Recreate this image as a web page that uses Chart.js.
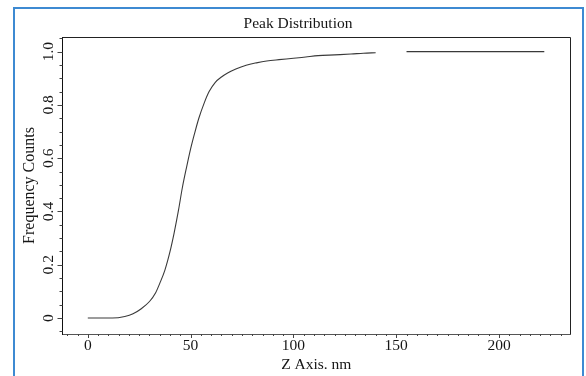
<!DOCTYPE html>
<html><head><meta charset="utf-8">
<script src="https://cdn.jsdelivr.net/npm/chart.js@4"></script>
<style>html,body{margin:0;padding:0;background:#fff;} #wrap{width:586px;height:376px;}</style>
</head><body><div id="wrap"><canvas id="c" width="586" height="376"></canvas></div>
<script>
const zValues = [0,12,18,22,26,30,33,35,37.5,40,42,44,46,48,50,52,54,56.5,59,62,65,68,72,77,82,87,93,100,106,112,120,128,134,140,147,155,222];
const frequency = [0,0,0.006,0.016,0.035,0.062,0.095,0.13,0.18,0.25,0.32,0.40,0.49,0.565,0.635,0.695,0.75,0.805,0.85,0.885,0.905,0.92,0.935,0.949,0.958,0.965,0.97,0.975,0.98,0.985,0.988,0.991,0.994,0.996,null,1.0,1.0];
const xTickValues = [0,50,100,150,200];
const xTickLabels = ["0","50","100","150","200"];
const yTickValues = [0,0.2,0.4,0.6,0.8,1.0];
const yTickLabels = ["0","0.2","0.4","0.6","0.8","1.0"];
const chartTitle = "Peak Distribution";
const xTitle = "Z Axis. nm";
const yTitle = "Frequency Counts";

const FONT = "'Liberation Serif', 'DejaVu Serif', serif";
const TXT = '#161616';

const decor = {
  id: 'decor',
  beforeDraw(chart) {
    const ctx = chart.ctx;
    ctx.save();
    ctx.fillStyle = '#fff';
    ctx.fillRect(0, 0, chart.width, chart.height);
    ctx.strokeStyle = '#3d8ad2';
    ctx.lineWidth = 2;
    ctx.strokeRect(14, 8, 569, 380);
    ctx.restore();
  },
  afterDraw(chart) {
    const ctx = chart.ctx;
    const a = chart.chartArea;
    const xs = chart.scales.x, ys = chart.scales.y;
    ctx.save();
    // top and right frame of the plot box
    ctx.strokeStyle = '#222';
    ctx.lineWidth = 1;
    ctx.beginPath();
    ctx.moveTo(a.left, a.top + 0.5);
    ctx.lineTo(a.right + 0.5, a.top + 0.5);
    ctx.lineTo(a.right + 0.5, a.bottom);
    ctx.stroke();
    // x ticks
    ctx.strokeStyle = '#444';
    for (let v = -10; v <= xs.max; v += 5) {
      const px = Math.round(xs.getPixelForValue(v)) + 0.5;
      const major = xTickValues.includes(v);
      ctx.beginPath();
      ctx.moveTo(px, a.bottom);
      ctx.lineTo(px, a.bottom + (major ? 4 : 2));
      ctx.stroke();
    }
    // y ticks
    for (let i = -1; i <= 21; i++) {
      const v = i * 0.05;
      if (v < ys.min || v > ys.max) continue;
      const py = Math.round(ys.getPixelForValue(v)) + 0.5;
      const major = i % 4 === 0;
      ctx.beginPath();
      ctx.moveTo(a.left, py);
      ctx.lineTo(a.left - (major ? 5 : 3), py);
      ctx.stroke();
    }
    // y tick labels, rotated
    ctx.fillStyle = TXT;
    ctx.font = "15.5px " + FONT;
    ctx.textAlign = 'center';
    ctx.textBaseline = 'middle';
    yTickValues.forEach((v, i) => {
      const py = ys.getPixelForValue(v);
      ctx.save();
      ctx.translate(49, py);
      ctx.rotate(-Math.PI / 2);
      ctx.fillText(yTickLabels[i], 0, 0);
      ctx.restore();
    });
    ctx.restore();
  }
};

new Chart(document.getElementById('c'), {
  type: 'line',
  data: {
    datasets: [{
      data: zValues.map((x, i) => ({x: x, y: frequency[i]})),
      borderColor: '#3a3a3a',
      borderWidth: 1.1,
      pointRadius: 0,
      spanGaps: false,
      cubicInterpolationMode: 'monotone',
      fill: false
    }]
  },
  options: {
    responsive: false,
    devicePixelRatio: 1,
    animation: false,
    layout: {padding: {left: 26, right: 16, top: 0, bottom: 0}},
    plugins: {
      legend: {display: false},
      tooltip: {enabled: false},
      title: {
        display: true, text: chartTitle, color: TXT,
        font: {family: FONT, size: 15.5, weight: 'normal'},
        padding: {top: 14.7, bottom: 3.7}
      }
    },
    scales: {
      x: {
        type: 'linear', min: -12.3, max: 234.5,
        grid: {display: false, drawTicks: false},
        border: {display: true, color: '#555', width: 1, dash: [2, 1]},
        ticks: {
          stepSize: 50, includeBounds: false, color: TXT, padding: 3,
          font: {family: FONT, size: 15.5},
          autoSkip: false, maxRotation: 0,
          callback: (v) => { const k = xTickValues.indexOf(v); return k >= 0 ? xTickLabels[k] : ''; }
        },
        title: {display: true, text: xTitle, color: TXT, font: {family: FONT, size: 15.5}, padding: {top: 0, bottom: 1.7}},
        afterFit: (s) => { s.height = 42; }
      },
      y: {
        type: 'linear', min: -0.06, max: 1.055,
        grid: {display: false, drawTicks: false},
        border: {display: true, color: '#111', width: 1},
        ticks: {display: false, stepSize: 0.2, includeBounds: false},
        title: {display: true, text: yTitle, color: TXT, font: {family: FONT, size: 16}, padding: {top: -5.6, bottom: 0}},
        afterFit: (s) => { s.width = 36.5; }
      }
    }
  },
  plugins: [decor]
});
</script>
</body></html>
